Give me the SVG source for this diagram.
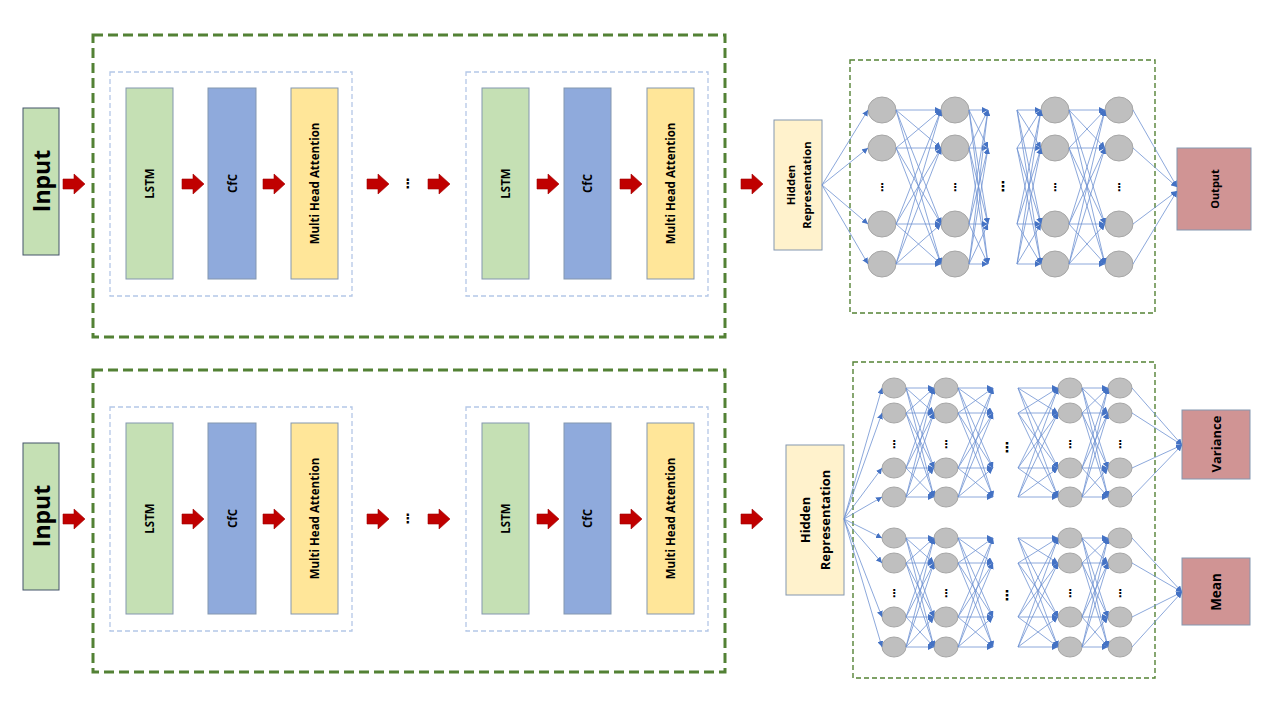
<svg xmlns="http://www.w3.org/2000/svg" xmlns:xlink="http://www.w3.org/1999/xlink" width="1280" height="720" viewBox="0 0 1280 720">
<style>
.bg{fill:#ffffff}
.big{fill:none;stroke:#538135;stroke-width:3;stroke-dasharray:10 5}
.inner{fill:none;stroke:#b4c7e7;stroke-width:1.3;stroke-dasharray:5 3}
.nnbox{fill:none;stroke:#548235;stroke-width:1.4;stroke-dasharray:5 3}
.blk{stroke:#8497b0;stroke-width:1}
.lstm{fill:#c5e0b4}
.cfc{fill:#8faadc}
.mha{fill:#ffe699}
.hr{fill:#fff2cc}
.out{fill:#d09494}
.inp{fill:#c5e0b4;stroke:#44546a;stroke-width:1}
.t{font-family:"Open Sans","Liberation Sans",sans-serif;font-weight:bold;fill:#000;text-anchor:middle;dominant-baseline:central}
.dots{font-family:"DejaVu Sans",sans-serif;font-weight:bold;fill:#000;text-anchor:middle;dominant-baseline:central}
.node{fill:#bfbfbf;stroke:#a6a6a6;stroke-width:1}
.c path{fill:none;stroke:#6f92d2;stroke-width:0.8;marker-end:url(#ah)}
</style>
<defs>
<marker id="ah" markerUnits="userSpaceOnUse" markerWidth="6" markerHeight="6" refX="6" refY="3" orient="auto"><path d="M0 0L6 3L0 6Z" fill="#4472c4"/></marker>
<path id="ra" d="M0 -5L11 -5L11 -10L22 0L11 10L11 5L0 5Z" fill="#c00000" stroke="#a00000" stroke-width="0.6"/>
</defs>
<rect class="bg" width="1280" height="720"/>

<!-- TOP SECTION -->
<g id="input-top"><rect class="inp" x="23" y="108" width="36" height="147"/><text class="t" font-size="23" transform="translate(41 181) rotate(-90)">Input</text></g>
<g id="encoder-top">
<rect class="big" x="93" y="35" width="632" height="302"/>
<g id="block1-top"><rect class="inner" x="110" y="72" width="242" height="224"/>
<rect class="blk lstm" x="126" y="88" width="47" height="191"/><text class="t" font-size="11.5" transform="translate(149.5 183.5) rotate(-90)">LSTM</text>
<rect class="blk cfc" x="208" y="88" width="48" height="191"/><text class="t" font-size="11.5" transform="translate(232 183.5) rotate(-90)">CfC</text>
<rect class="blk mha" x="291" y="88" width="47" height="191"/><text class="t" font-size="11.5" transform="translate(314.5 183.5) rotate(-90)">Multi Head Attention</text></g>
<text class="dots" font-size="13" x="408" y="183">⋮</text>
<g id="block2-top"><rect class="inner" x="466" y="72" width="242" height="224"/>
<rect class="blk lstm" x="482" y="88" width="47" height="191"/><text class="t" font-size="11.5" transform="translate(505.5 183.5) rotate(-90)">LSTM</text>
<rect class="blk cfc" x="564" y="88" width="47" height="191"/><text class="t" font-size="11.5" transform="translate(587.5 183.5) rotate(-90)">CfC</text>
<rect class="blk mha" x="647" y="88" width="47" height="191"/><text class="t" font-size="11.5" transform="translate(670.5 183.5) rotate(-90)">Multi Head Attention</text></g>
</g>
<g id="hidden-top"><rect class="blk hr" x="774" y="120" width="48" height="130"/><text class="t" font-size="11.3" transform="translate(790 185) rotate(-90)">Hidden</text><text class="t" font-size="11.3" transform="translate(806 185) rotate(-90)">Representation</text></g>
<g id="nn-top">
<rect class="nnbox" x="850" y="60" width="305" height="253"/>
<g id="nodes-top">
<ellipse class="node" cx="882" cy="110" rx="14" ry="13"/><ellipse class="node" cx="882" cy="148" rx="14" ry="13"/><ellipse class="node" cx="882" cy="224" rx="14" ry="13"/><ellipse class="node" cx="882" cy="264" rx="14" ry="13"/>
<ellipse class="node" cx="955" cy="110" rx="14" ry="13"/><ellipse class="node" cx="955" cy="148" rx="14" ry="13"/><ellipse class="node" cx="955" cy="224" rx="14" ry="13"/><ellipse class="node" cx="955" cy="264" rx="14" ry="13"/>
<ellipse class="node" cx="1055" cy="110" rx="14" ry="13"/><ellipse class="node" cx="1055" cy="148" rx="14" ry="13"/><ellipse class="node" cx="1055" cy="224" rx="14" ry="13"/><ellipse class="node" cx="1055" cy="264" rx="14" ry="13"/>
<ellipse class="node" cx="1119" cy="110" rx="14" ry="13"/><ellipse class="node" cx="1119" cy="148" rx="14" ry="13"/><ellipse class="node" cx="1119" cy="224" rx="14" ry="13"/><ellipse class="node" cx="1119" cy="264" rx="14" ry="13"/>
</g>
<text class="dots" font-size="11" x="882" y="187">⋮</text><text class="dots" font-size="11" x="955" y="187">⋮</text><text class="dots" font-size="11" x="1055" y="187">⋮</text><text class="dots" font-size="11" x="1119" y="187">⋮</text><text class="dots" font-size="14" x="1003" y="186">⋮</text>
</g>
<g id="output-top"><rect class="blk out" x="1177" y="148" width="74" height="82"/><text class="t" font-size="11" transform="translate(1214 189) rotate(-90)">Output</text></g>

<!-- BOTTOM SECTION -->
<g id="input-bottom"><rect class="inp" x="23" y="443" width="36" height="147"/><text class="t" font-size="23" transform="translate(41 516) rotate(-90)">Input</text></g>
<g id="encoder-bottom">
<rect class="big" x="93" y="370" width="632" height="302"/>
<g id="block1-bottom"><rect class="inner" x="110" y="407" width="242" height="224"/>
<rect class="blk lstm" x="126" y="423" width="47" height="191"/><text class="t" font-size="11.5" transform="translate(149.5 518.5) rotate(-90)">LSTM</text>
<rect class="blk cfc" x="208" y="423" width="48" height="191"/><text class="t" font-size="11.5" transform="translate(232 518.5) rotate(-90)">CfC</text>
<rect class="blk mha" x="291" y="423" width="47" height="191"/><text class="t" font-size="11.5" transform="translate(314.5 518.5) rotate(-90)">Multi Head Attention</text></g>
<text class="dots" font-size="13" x="408" y="518">⋮</text>
<g id="block2-bottom"><rect class="inner" x="466" y="407" width="242" height="224"/>
<rect class="blk lstm" x="482" y="423" width="47" height="191"/><text class="t" font-size="11.5" transform="translate(505.5 518.5) rotate(-90)">LSTM</text>
<rect class="blk cfc" x="564" y="423" width="47" height="191"/><text class="t" font-size="11.5" transform="translate(587.5 518.5) rotate(-90)">CfC</text>
<rect class="blk mha" x="647" y="423" width="47" height="191"/><text class="t" font-size="11.5" transform="translate(670.5 518.5) rotate(-90)">Multi Head Attention</text></g>
</g>
<g id="hidden-bottom"><rect class="blk hr" x="786" y="445" width="58" height="150"/><text class="t" font-size="13" transform="translate(805 520) rotate(-90)">Hidden</text><text class="t" font-size="13" transform="translate(825 520) rotate(-90)">Representation</text></g>
<g id="nn-bottom">
<rect class="nnbox" x="853" y="362" width="302" height="316"/>
<g id="nodes-bottom">
<ellipse class="node" cx="894" cy="388" rx="12" ry="10"/><ellipse class="node" cx="894" cy="413" rx="12" ry="10"/><ellipse class="node" cx="894" cy="468" rx="12" ry="10"/><ellipse class="node" cx="894" cy="497" rx="12" ry="10"/>
<ellipse class="node" cx="894" cy="538" rx="12" ry="10"/><ellipse class="node" cx="894" cy="563" rx="12" ry="10"/><ellipse class="node" cx="894" cy="617" rx="12" ry="10"/><ellipse class="node" cx="894" cy="647" rx="12" ry="10"/>
<ellipse class="node" cx="946" cy="388" rx="12" ry="10"/><ellipse class="node" cx="946" cy="413" rx="12" ry="10"/><ellipse class="node" cx="946" cy="468" rx="12" ry="10"/><ellipse class="node" cx="946" cy="497" rx="12" ry="10"/>
<ellipse class="node" cx="946" cy="538" rx="12" ry="10"/><ellipse class="node" cx="946" cy="563" rx="12" ry="10"/><ellipse class="node" cx="946" cy="617" rx="12" ry="10"/><ellipse class="node" cx="946" cy="647" rx="12" ry="10"/>
<ellipse class="node" cx="1070" cy="388" rx="12" ry="10"/><ellipse class="node" cx="1070" cy="413" rx="12" ry="10"/><ellipse class="node" cx="1070" cy="468" rx="12" ry="10"/><ellipse class="node" cx="1070" cy="497" rx="12" ry="10"/>
<ellipse class="node" cx="1070" cy="538" rx="12" ry="10"/><ellipse class="node" cx="1070" cy="563" rx="12" ry="10"/><ellipse class="node" cx="1070" cy="617" rx="12" ry="10"/><ellipse class="node" cx="1070" cy="647" rx="12" ry="10"/>
<ellipse class="node" cx="1120" cy="388" rx="12" ry="10"/><ellipse class="node" cx="1120" cy="413" rx="12" ry="10"/><ellipse class="node" cx="1120" cy="468" rx="12" ry="10"/><ellipse class="node" cx="1120" cy="497" rx="12" ry="10"/>
<ellipse class="node" cx="1120" cy="538" rx="12" ry="10"/><ellipse class="node" cx="1120" cy="563" rx="12" ry="10"/><ellipse class="node" cx="1120" cy="617" rx="12" ry="10"/><ellipse class="node" cx="1120" cy="647" rx="12" ry="10"/>
</g>
<text class="dots" font-size="11" x="894" y="444">⋮</text><text class="dots" font-size="11" x="946" y="444">⋮</text><text class="dots" font-size="11" x="1070" y="444">⋮</text><text class="dots" font-size="11" x="1120" y="444">⋮</text><text class="dots" font-size="14" x="1007" y="447">⋮</text>
<text class="dots" font-size="11" x="894" y="593">⋮</text><text class="dots" font-size="11" x="946" y="593">⋮</text><text class="dots" font-size="11" x="1070" y="593">⋮</text><text class="dots" font-size="11" x="1120" y="593">⋮</text><text class="dots" font-size="14" x="1007" y="595">⋮</text>
</g>
<g id="variance"><rect class="blk out" x="1182" y="410" width="68" height="69"/><text class="t" font-size="13" transform="translate(1216 444) rotate(-90)">Variance</text></g>
<g id="mean"><rect class="blk out" x="1182" y="558" width="68" height="67"/><text class="t" font-size="13.5" transform="translate(1216 592) rotate(-90)">Mean</text></g>

<!-- CONNECTORS -->
<g id="connectors">
<g id="flow-arrows">
<use xlink:href="#ra" x="63" y="184"/><use xlink:href="#ra" x="182" y="184"/><use xlink:href="#ra" x="263" y="184"/><use xlink:href="#ra" x="367" y="184"/><use xlink:href="#ra" x="428" y="184"/><use xlink:href="#ra" x="537" y="184"/><use xlink:href="#ra" x="620" y="184"/><use xlink:href="#ra" x="741" y="184"/>
<use xlink:href="#ra" x="63" y="519"/><use xlink:href="#ra" x="182" y="519"/><use xlink:href="#ra" x="263" y="519"/><use xlink:href="#ra" x="367" y="519"/><use xlink:href="#ra" x="428" y="519"/><use xlink:href="#ra" x="537" y="519"/><use xlink:href="#ra" x="620" y="519"/><use xlink:href="#ra" x="741" y="519"/>
</g>
<g class="c" id="nn-links-top">
<path d="M822 185L868 110"/><path d="M822 185L868 148"/><path d="M822 185L868 224"/><path d="M822 185L868 264"/>
<path d="M896 110L941 110"/><path d="M896 110L941 148"/><path d="M896 110L941 224"/><path d="M896 110L941 264"/>
<path d="M896 148L941 110"/><path d="M896 148L941 148"/><path d="M896 148L941 224"/><path d="M896 148L941 264"/>
<path d="M896 224L941 110"/><path d="M896 224L941 148"/><path d="M896 224L941 224"/><path d="M896 224L941 264"/>
<path d="M896 264L941 110"/><path d="M896 264L941 148"/><path d="M896 264L941 224"/><path d="M896 264L941 264"/>
<path d="M969 110L988 110"/><path d="M969 110L988 148"/><path d="M969 110L988 224"/><path d="M969 110L988 264"/>
<path d="M969 148L988 110"/><path d="M969 148L988 148"/><path d="M969 148L988 224"/><path d="M969 148L988 264"/>
<path d="M969 224L988 110"/><path d="M969 224L988 148"/><path d="M969 224L988 224"/><path d="M969 224L988 264"/>
<path d="M969 264L988 110"/><path d="M969 264L988 148"/><path d="M969 264L988 224"/><path d="M969 264L988 264"/>
<path d="M1017 110L1041 110"/><path d="M1017 110L1041 148"/><path d="M1017 110L1041 224"/><path d="M1017 110L1041 264"/>
<path d="M1017 148L1041 110"/><path d="M1017 148L1041 148"/><path d="M1017 148L1041 224"/><path d="M1017 148L1041 264"/>
<path d="M1017 224L1041 110"/><path d="M1017 224L1041 148"/><path d="M1017 224L1041 224"/><path d="M1017 224L1041 264"/>
<path d="M1017 264L1041 110"/><path d="M1017 264L1041 148"/><path d="M1017 264L1041 224"/><path d="M1017 264L1041 264"/>
<path d="M1069 110L1105 110"/><path d="M1069 110L1105 148"/><path d="M1069 110L1105 224"/><path d="M1069 110L1105 264"/>
<path d="M1069 148L1105 110"/><path d="M1069 148L1105 148"/><path d="M1069 148L1105 224"/><path d="M1069 148L1105 264"/>
<path d="M1069 224L1105 110"/><path d="M1069 224L1105 148"/><path d="M1069 224L1105 224"/><path d="M1069 224L1105 264"/>
<path d="M1069 264L1105 110"/><path d="M1069 264L1105 148"/><path d="M1069 264L1105 224"/><path d="M1069 264L1105 264"/>
<path d="M1133 110L1177 187"/><path d="M1133 148L1177 187"/><path d="M1133 224L1177 191"/><path d="M1133 264L1177 191"/>
</g>
<g class="c" id="nn-links-bottom">
<path d="M844 519L882 388"/><path d="M844 519L882 413"/><path d="M844 519L882 468"/><path d="M844 519L882 497"/><path d="M844 519L882 538"/><path d="M844 519L882 563"/><path d="M844 519L882 617"/><path d="M844 519L882 647"/>
<path d="M906 388L934 388"/><path d="M906 388L934 413"/><path d="M906 388L934 468"/><path d="M906 388L934 497"/>
<path d="M906 413L934 388"/><path d="M906 413L934 413"/><path d="M906 413L934 468"/><path d="M906 413L934 497"/>
<path d="M906 468L934 388"/><path d="M906 468L934 413"/><path d="M906 468L934 468"/><path d="M906 468L934 497"/>
<path d="M906 497L934 388"/><path d="M906 497L934 413"/><path d="M906 497L934 468"/><path d="M906 497L934 497"/>
<path d="M958 388L993 388"/><path d="M958 388L993 413"/><path d="M958 388L993 468"/><path d="M958 388L993 497"/>
<path d="M958 413L993 388"/><path d="M958 413L993 413"/><path d="M958 413L993 468"/><path d="M958 413L993 497"/>
<path d="M958 468L993 388"/><path d="M958 468L993 413"/><path d="M958 468L993 468"/><path d="M958 468L993 497"/>
<path d="M958 497L993 388"/><path d="M958 497L993 413"/><path d="M958 497L993 468"/><path d="M958 497L993 497"/>
<path d="M1018 388L1058 388"/><path d="M1018 388L1058 413"/><path d="M1018 388L1058 468"/><path d="M1018 388L1058 497"/>
<path d="M1018 413L1058 388"/><path d="M1018 413L1058 413"/><path d="M1018 413L1058 468"/><path d="M1018 413L1058 497"/>
<path d="M1018 468L1058 388"/><path d="M1018 468L1058 413"/><path d="M1018 468L1058 468"/><path d="M1018 468L1058 497"/>
<path d="M1018 497L1058 388"/><path d="M1018 497L1058 413"/><path d="M1018 497L1058 468"/><path d="M1018 497L1058 497"/>
<path d="M1082 388L1108 388"/><path d="M1082 388L1108 413"/><path d="M1082 388L1108 468"/><path d="M1082 388L1108 497"/>
<path d="M1082 413L1108 388"/><path d="M1082 413L1108 413"/><path d="M1082 413L1108 468"/><path d="M1082 413L1108 497"/>
<path d="M1082 468L1108 388"/><path d="M1082 468L1108 413"/><path d="M1082 468L1108 468"/><path d="M1082 468L1108 497"/>
<path d="M1082 497L1108 388"/><path d="M1082 497L1108 413"/><path d="M1082 497L1108 468"/><path d="M1082 497L1108 497"/>
<path d="M1132 388L1182 445"/><path d="M1132 413L1182 445"/><path d="M1132 468L1182 445"/><path d="M1132 497L1182 445"/>
<path d="M906 538L934 538"/><path d="M906 538L934 563"/><path d="M906 538L934 617"/><path d="M906 538L934 647"/>
<path d="M906 563L934 538"/><path d="M906 563L934 563"/><path d="M906 563L934 617"/><path d="M906 563L934 647"/>
<path d="M906 617L934 538"/><path d="M906 617L934 563"/><path d="M906 617L934 617"/><path d="M906 617L934 647"/>
<path d="M906 647L934 538"/><path d="M906 647L934 563"/><path d="M906 647L934 617"/><path d="M906 647L934 647"/>
<path d="M958 538L993 538"/><path d="M958 538L993 563"/><path d="M958 538L993 617"/><path d="M958 538L993 647"/>
<path d="M958 563L993 538"/><path d="M958 563L993 563"/><path d="M958 563L993 617"/><path d="M958 563L993 647"/>
<path d="M958 617L993 538"/><path d="M958 617L993 563"/><path d="M958 617L993 617"/><path d="M958 617L993 647"/>
<path d="M958 647L993 538"/><path d="M958 647L993 563"/><path d="M958 647L993 617"/><path d="M958 647L993 647"/>
<path d="M1018 538L1058 538"/><path d="M1018 538L1058 563"/><path d="M1018 538L1058 617"/><path d="M1018 538L1058 647"/>
<path d="M1018 563L1058 538"/><path d="M1018 563L1058 563"/><path d="M1018 563L1058 617"/><path d="M1018 563L1058 647"/>
<path d="M1018 617L1058 538"/><path d="M1018 617L1058 563"/><path d="M1018 617L1058 617"/><path d="M1018 617L1058 647"/>
<path d="M1018 647L1058 538"/><path d="M1018 647L1058 563"/><path d="M1018 647L1058 617"/><path d="M1018 647L1058 647"/>
<path d="M1082 538L1108 538"/><path d="M1082 538L1108 563"/><path d="M1082 538L1108 617"/><path d="M1082 538L1108 647"/>
<path d="M1082 563L1108 538"/><path d="M1082 563L1108 563"/><path d="M1082 563L1108 617"/><path d="M1082 563L1108 647"/>
<path d="M1082 617L1108 538"/><path d="M1082 617L1108 563"/><path d="M1082 617L1108 617"/><path d="M1082 617L1108 647"/>
<path d="M1082 647L1108 538"/><path d="M1082 647L1108 563"/><path d="M1082 647L1108 617"/><path d="M1082 647L1108 647"/>
<path d="M1132 538L1182 592"/><path d="M1132 563L1182 592"/><path d="M1132 617L1182 592"/><path d="M1132 647L1182 592"/>
</g>
</g>
</svg>
